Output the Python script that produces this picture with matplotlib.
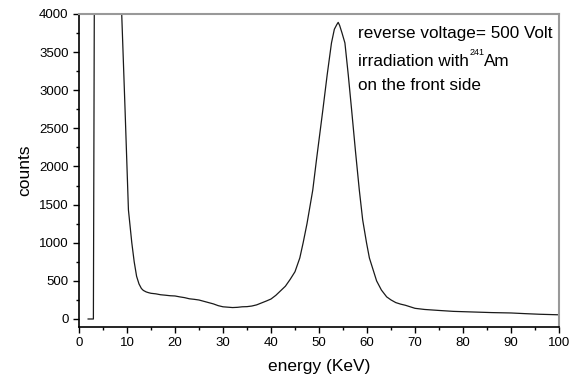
import numpy as np
import matplotlib
matplotlib.use('Agg')
from matplotlib import pyplot as plt
from matplotlib.ticker import MultipleLocator

plt.rcParams['font.family'] = ['Liberation Sans', 'DejaVu Sans']

# energy (KeV) and counts
energy = [1.9, 3.0, 3.2, 3.4, 8.7, 8.9, 9.6, 10.3, 11.0, 11.5, 12.0, 12.5, 13.0, 13.4,
          14.0, 14.5, 15.0, 16.0, 17.0, 18.0, 19.0, 20.0, 21.0, 22.0, 23.0, 24.0,
          25.0, 26.0, 27.0, 28.0, 29.0, 30.0, 31.0, 32.0, 33.0, 34.0, 35.0, 36.0,
          37.0, 38.0, 39.0, 40.0, 41.0, 42.0, 43.0, 44.0, 45.0, 46.0, 46.7, 47.5,
          48.7, 49.5, 50.8, 51.7, 52.6, 53.2, 53.7, 54.0, 54.3, 54.8, 55.4, 56.1,
          56.8, 57.6, 58.4, 59.1, 59.9, 60.5, 61.3, 62.0, 63.0, 64.1, 65.0, 66.0,
          67.0, 68.0, 70.0, 72.0, 75.0, 78.0, 80.0, 83.0, 86.0, 90.0, 93.0, 96.0,
          100.0]
counts = [0, 0, 4300, 6000, 6000, 4000, 2740, 1430, 1000, 750, 560, 460, 400, 375,
          355, 345, 337, 330, 318, 312, 305, 302, 290, 280, 265, 258,
          249, 232, 215, 198, 175, 160, 155, 150, 153, 160, 162, 170,
          185, 210, 235, 262, 310, 370, 430, 520, 620, 800, 1000, 1250,
          1690, 2100, 2740, 3200, 3620, 3800, 3860, 3890, 3850, 3750, 3620, 3200,
          2740, 2200, 1690, 1300, 1000, 800, 640, 500, 380, 290, 250, 215,
          195, 180, 140, 125, 112, 100, 96, 90, 84, 79, 70, 62,
          55]

fig = plt.figure(figsize=(5.77, 3.79), dpi=100)
ax = fig.add_axes([0.1369, 0.1372, 0.8319, 0.8259])

ax.plot(energy, counts, color='#1a1a1a', lw=0.9)

ax.set_xlim(0, 100)
ax.set_ylim(-105, 4000)
ax.xaxis.set_major_locator(MultipleLocator(10))
ax.xaxis.set_minor_locator(MultipleLocator(5))
ax.yaxis.set_major_locator(MultipleLocator(500))
ax.yaxis.set_minor_locator(MultipleLocator(250))
ax.tick_params(which='major', direction='out', length=4, width=1, labelsize=9.5)
ax.tick_params(which='minor', direction='out', length=2.5, width=1)

for s in ['top', 'right']:
    ax.spines[s].set_color('#999999')
    ax.spines[s].set_linewidth(1.5)
for s in ['left', 'bottom']:
    ax.spines[s].set_linewidth(1.2)

ax.set_xlabel('energy (KeV)', fontsize=12.5, labelpad=7)
ax.set_ylabel('counts', fontsize=12.5, labelpad=5)

ax.text(58.2, 3740, 'reverse voltage= 500 Volt', fontsize=12.3, va='center')
ax.text(58.2, 3380, 'irradiation with', fontsize=12.3, va='center')
ax.text(81.4, 3500, '241', fontsize=6.5, va='center')
ax.text(84.3, 3380, 'Am', fontsize=12.3, va='center')
ax.text(58.2, 3060, 'on the front side', fontsize=12.3, va='center')

plt.savefig('out.png', dpi=100)
